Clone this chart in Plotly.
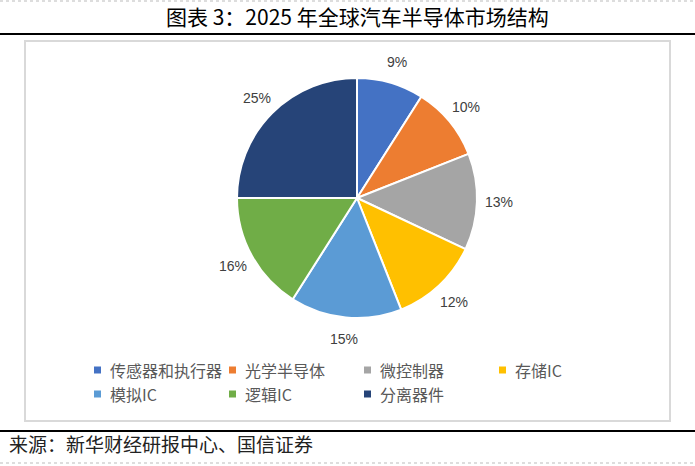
import math
import plotly.graph_objects as go

labels = ["传感器和执行器", "光学半导体", "微控制器", "存储IC", "模拟IC", "逻辑IC", "分离器件"]
values = [9, 10, 13, 12, 15, 16, 25]
colors = ["#4472C4", "#ED7D31", "#A5A5A5", "#FFC000", "#5B9BD5", "#70AD47", "#264478"]

W, H = 695, 466
def px(x): return x / W
def py(y): return 1 - y / H

cx, cy, r = 357, 198, 120
label_r = 142

fig = go.Figure(go.Pie(
    labels=labels, values=values, sort=False, direction="clockwise", rotation=0,
    marker=dict(colors=colors, line=dict(color="white", width=2)),
    textinfo="none",
    domain=dict(x=[px(cx - r), px(cx + r)], y=[py(cy + r), py(cy - r)]),
    hoverinfo="skip", showlegend=False,
))

shapes = [
    dict(type="line", xref="paper", yref="paper", x0=0, x1=1, y0=py(34), y1=py(34), line=dict(color="black", width=2)),
    dict(type="rect", xref="paper", yref="paper", x0=px(25), x1=px(670), y0=py(421), y1=py(41), line=dict(color="#d9d9d9", width=2)),
    dict(type="line", xref="paper", yref="paper", x0=0, x1=1, y0=py(431), y1=py(431), line=dict(color="black", width=2)),
    dict(type="line", xref="paper", yref="paper", x0=0, x1=1, y0=py(1), y1=py(1), line=dict(color="#bbbbbb", width=1, dash="dot")),
    dict(type="line", xref="paper", yref="paper", x0=0, x1=1, y0=py(463), y1=py(463), line=dict(color="#bbbbbb", width=1, dash="dot")),
]

annotations = [
    dict(text="图表 3：2025 年全球汽车半导体市场结构", x=px(357), y=py(16), xref="paper", yref="paper",
         showarrow=False, xanchor="center", yanchor="middle",
         font=dict(size=21, color="black", family="Noto Sans CJK SC")),
    dict(text="来源：新华财经研报中心、国信证券", x=px(7), y=py(443), xref="paper", yref="paper",
         showarrow=False, xanchor="left", yanchor="middle",
         font=dict(size=19, color="#222222", family="Noto Sans CJK SC")),
]

# percentage labels placed outside each slice, from the values
total = sum(values)
cum = 0
for v in values:
    mid = (cum + v / 2) / total * 2 * math.pi
    cum += v
    lx = cx + label_r * math.sin(mid)
    ly = cy - label_r * math.cos(mid)
    annotations.append(dict(text=f"{v}%", x=px(lx), y=py(ly), xref="paper", yref="paper",
                            showarrow=False, xanchor="center", yanchor="middle",
                            font=dict(size=14, color="#404040", family="Liberation Sans")))

# legend: 4 columns, 2 rows
leg_x0, leg_dx, leg_y0, leg_dy, sq = 94, 135, 370, 24, 7
for i, (lab, col) in enumerate(zip(labels, colors)):
    sx = leg_x0 + (i % 4) * leg_dx
    sy = leg_y0 + (i // 4) * leg_dy
    shapes.append(dict(type="rect", xref="paper", yref="paper",
                       x0=px(sx), x1=px(sx + sq), y0=py(sy + sq / 2), y1=py(sy - sq / 2),
                       fillcolor=col, line=dict(width=0)))
    annotations.append(dict(text=lab, x=px(sx + 14), y=py(sy), xref="paper", yref="paper",
                            showarrow=False, xanchor="left", yanchor="middle",
                            font=dict(size=16, color="#595959", family="Noto Sans CJK SC")))

fig.update_layout(
    width=W, height=H, margin=dict(l=0, r=0, t=0, b=0),
    paper_bgcolor="white", plot_bgcolor="white",
    shapes=shapes, annotations=annotations,
    showlegend=False,
)

fig.write_html("out.html")
